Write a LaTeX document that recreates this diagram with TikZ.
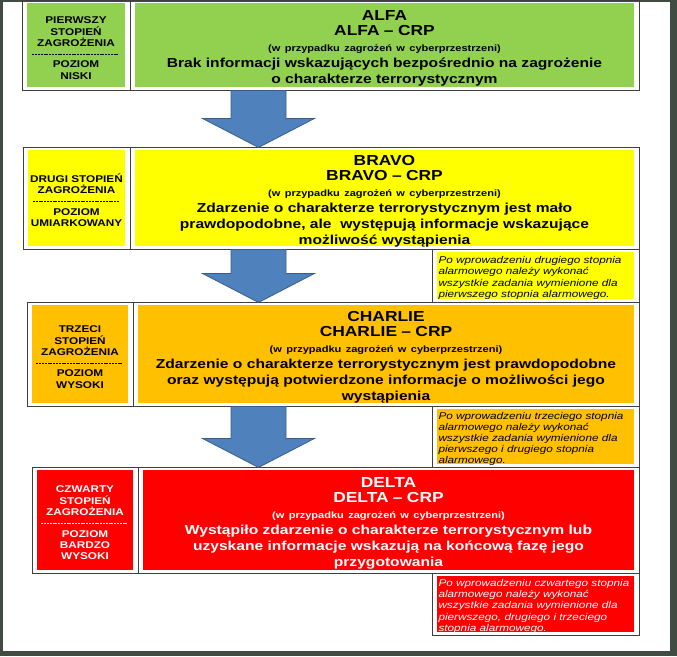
\documentclass[tikz,border=0pt]{standalone}
\usepackage{fontspec}
\setmainfont{Liberation Sans}[FakeStretch=1.2]
\usetikzlibrary{positioning, calc}

% dotted separator between "stopień" and "poziom"
\newcommand\dashline{\hbox to 88pt{\leaders\hbox to 2.8pt{\hss\rule[2pt]{2pt}{0.8pt}\hss}\hfil}}
\newcommand\cyber{{\fontsize{9.2}{10}\selectfont (w przypadku zagrożeń w cyberprzestrzeni)}}
\newcommand\ttl[1]{{\fontsize{14.5}{15.8}\selectfont #1}}
\newcommand\lvltop{\rule{0pt}{12pt}}

\begin{document}
\begin{tikzpicture}[
    x=1pt, y=-1pt,
    every node/.style={inner sep=0pt, outer sep=0pt},
    cellbg/.style={draw=linecol, line width=0.9pt, anchor=north west,
        path picture={\fill[#1]
            ([xshift=5pt, yshift=-3pt]path picture bounding box.north west) rectangle
            ([xshift=-5pt, yshift=3pt]path picture bounding box.south east);}},
    levelcell/.style={cellbg=#1, align=center,
        font=\bfseries\fontsize{9.8}{11.4}\selectfont},
    maincell/.style={cellbg=#1, align=center, text width=495pt,
        font=\bfseries\fontsize{13}{15.8}\selectfont,
        execute at begin node={\rule{0pt}{15pt}}},
    notecell/.style={cellbg=#1, align=left, text width=194pt,
        font=\itshape\fontsize{9.8}{11.2}\selectfont,
        execute at begin node={\rule{0pt}{11pt}}},
    blockarrow/.style={fill=arrowblue, draw=arrowedge, line width=0.8pt},
]

% ---------------------------------------------------------------- colours
\definecolor{alfagreen}{HTML}{92D050}
\definecolor{bravoyellow}{HTML}{FFFF00}
\definecolor{charlieorange}{HTML}{FFC000}
\definecolor{deltared}{HTML}{FF0000}
\definecolor{arrowblue}{HTML}{4F81BD}
\definecolor{arrowedge}{HTML}{385D8A}
\definecolor{linecol}{HTML}{3F3F3F}
\definecolor{framegray}{HTML}{414B41}

% slide frame (also fixes the bounding box)
\fill[framegray] (0,0) rectangle (677,656);
\fill[white] (3,2) rectangle (670,651);

% the arrows run down this vertical
\coordinate (axis) at (258.5,0);

% ================================================================ ALFA
\node[levelcell=alfagreen, minimum width=108pt, minimum height=90pt] (alfa-lvl) at (22,0)
    {\lvltop PIERWSZY\\STOPIEŃ\\ZAGROŻENIA\\[-1.5pt]\dashline\\POZIOM\\NISKI};
\node[maincell=alfagreen, minimum width=509pt, minimum height=90pt, right=0pt of alfa-lvl] (alfa)
    {\ttl{ALFA}\\\ttl{ALFA – CRP}\\\cyber\\
     Brak informacji wskazujących bezpośrednio na zagrożenie\\
     o charakterze terrorystycznym};

% ================================================================ BRAVO
\node[levelcell=bravoyellow, minimum width=107pt, minimum height=102pt] (bravo-lvl) at (23,147)
    {\lvltop DRUGI STOPIEŃ\\ZAGROŻENIA\\[-1.5pt]\dashline\\POZIOM\\UMIARKOWANY};
\node[maincell=bravoyellow, minimum width=509pt, minimum height=102pt, right=0pt of bravo-lvl] (bravo)
    {\ttl{BRAVO}\\\ttl{BRAVO – CRP}\\\cyber\\
     Zdarzenie o charakterze terrorystycznym jest mało\\
     prawdopodobne, ale \ występują informacje wskazujące\\
     możliwość wystąpienia};
\node[notecell=bravoyellow, minimum width=207pt, minimum height=53pt, anchor=north east] (bravo-note)
    at (bravo.south east)
    {Po wprowadzeniu drugiego stopnia\\alarmowego należy wykonać\\
     wszystkie zadania wymienione dla\\pierwszego stopnia alarmowego.};

% ================================================================ CHARLIE
\node[levelcell=charlieorange, minimum width=106pt, minimum height=104pt] (charlie-lvl) at (27,302)
    {\lvltop TRZECI\\STOPIEŃ\\ZAGROŻENIA\\[-1.5pt]\dashline\\POZIOM\\WYSOKI};
\node[maincell=charlieorange, minimum width=506pt, minimum height=104pt, right=0pt of charlie-lvl] (charlie)
    {\ttl{CHARLIE}\\\ttl{CHARLIE – CRP}\\\cyber\\
     Zdarzenie o charakterze terrorystycznym jest prawdopodobne\\
     oraz występują potwierdzone informacje o możliwości jego\\
     wystąpienia};
\node[notecell=charlieorange, minimum width=207pt, minimum height=61pt, anchor=north east] (charlie-note)
    at (charlie.south east)
    {Po wprowadzeniu trzeciego stopnia\\alarmowego należy wykonać\\
     wszystkie zadania wymienione dla\\pierwszego i drugiego stopnia\\alarmowego.};

% ================================================================ DELTA
\node[levelcell=deltared, text=white, minimum width=106pt, minimum height=106pt] (delta-lvl) at (32,467)
    {\lvltop CZWARTY\\STOPIEŃ\\ZAGROŻENIA\\[-1.5pt]\dashline\\POZIOM\\BARDZO\\WYSOKI};
\node[maincell=deltared, text=white, minimum width=501pt, minimum height=106pt, right=0pt of delta-lvl] (delta)
    {\ttl{DELTA}\\\ttl{DELTA – CRP}\\\cyber\\
     Wystąpiło zdarzenie o charakterze terrorystycznym lub\\
     uzyskane informacje wskazują na końcową fazę jego\\
     przygotowania};
\node[notecell=deltared, text=white, minimum width=207pt, minimum height=62pt, anchor=north east] (delta-note)
    at (delta.south east)
    {Po wprowadzeniu czwartego stopnia\\alarmowego należy wykonać\\
     wszystkie zadania wymienione dla\\pierwszego, drugiego i trzeciego\\stopnia alarmowego.};

% block arrows between the levels
\foreach \a/\b in {alfa/bravo, bravo/charlie, charlie/delta} {
    \filldraw[blockarrow]
        ($(\a.south -| axis)+(-27.5,0)$) -- ($(\a.south -| axis)+(27.5,0)$)
        -- ($(\b.north -| axis)+(27.5,-29)$) -- ($(\b.north -| axis)+(56,-29)$)
        -- (\b.north -| axis)
        -- ($(\b.north -| axis)+(-56,-29)$) -- ($(\b.north -| axis)+(-27.5,-29)$) -- cycle;
}

\end{tikzpicture}
\end{document}
